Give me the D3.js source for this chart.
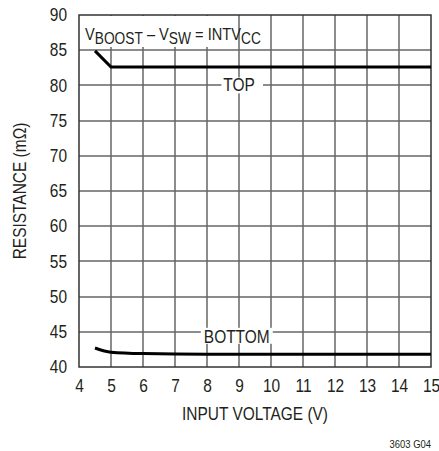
<!DOCTYPE html>
<meta charset="utf-8">
<html>
<head>
<script src="https://d3js.org/d3.v7.min.js"></script>
<style>
  body { margin: 0; background: #fff; }
  text { font-family: 'Liberation Sans', Arial, sans-serif; fill: #231f20; }
</style>
</head>
<body>
<svg width="439" height="451"></svg>
<script>
  // data
  const xTicks = [4, 5, 6, 7, 8, 9, 10, 11, 12, 13, 14, 15];
  const yTicks = [40, 45, 50, 55, 60, 65, 70, 75, 80, 85, 90];
  const topV = [4.5, 5, 6, 8, 10, 12, 15];
  const topR = [84.9, 82.6, 82.6, 82.6, 82.6, 82.6, 82.6];
  const botV = [4.5, 5, 6, 8, 10, 12, 15];
  const botR = [42.7, 42.1, 41.9, 41.8, 41.8, 41.8, 41.8];

  const svg = d3.select("svg");
  const margin = { left: 79, right: 8, top: 15, bottom: 84 };
  const W = 439 - margin.left - margin.right;
  const H = 451 - margin.top - margin.bottom;
  const SX = 0.86; // condensed look

  const x = d3.scaleLinear().domain([4, 15]).range([0, W]);
  const y = d3.scaleLinear().domain([40, 90]).range([H, 0]);

  const g = svg.append("g").attr("transform", `translate(${margin.left},${margin.top})`);

  function label(parent, px, py, size, anchor, str) {
    return parent.append("text")
      .attr("transform", `translate(${px},${py}) scale(${SX},1)`)
      .attr("text-anchor", anchor)
      .style("font-size", size + "px")
      .text(str);
  }

  // grid
  const grid = g.append("g");
  xTicks.slice(1, -1).forEach(v => {
    grid.append("path")
      .attr("d", `M${Math.round(x(v))},0V${H}`)
      .attr("stroke", "#666").attr("stroke-width", 1.5).attr("fill", "none");
  });
  yTicks.slice(1, -1).forEach(v => {
    grid.append("path")
      .attr("d", `M0,${Math.round(y(v))}H${W}`)
      .attr("stroke", "#666").attr("stroke-width", 1.5).attr("fill", "none");
  });

  // white boxes behind labels
  g.append("rect").attr("x", 1).attr("y", 1).attr("width", x(8.95) - 1).attr("height", 31).attr("fill", "#fff");
  g.append("rect").attr("x", x(8.45)).attr("y", y(80) - 8).attr("width", x(9.75) - x(8.45)).attr("height", 16).attr("fill", "#fff");
  g.append("rect").attr("x", x(8.93) - 36).attr("y", y(45) - 4).attr("width", 72).attr("height", 16).attr("fill", "#fff");

  // frame
  g.append("rect").attr("width", W).attr("height", H)
    .attr("fill", "none").attr("stroke", "#333").attr("stroke-width", 1.5);

  // axes tick labels
  const xAxis = d3.axisBottom(x).tickValues(xTicks).tickSize(0).tickPadding(12);
  const yAxis = d3.axisLeft(y).tickValues(yTicks).tickSize(0).tickPadding(12);
  const xa = g.append("g").attr("transform", `translate(0,${H})`).call(xAxis);
  const ya = g.append("g").call(yAxis);
  [xa, ya].forEach(a => {
    a.select(".domain").remove();
    a.selectAll("text").style("font-size", "18px").attr("fill", "#231f20");
  });
  xa.selectAll("text").attr("transform", `scale(${SX},1)`);
  ya.selectAll("text").attr("x", null).attr("transform", `translate(-12,0) scale(${SX},1)`);

  // curves
  g.append("path").datum(topV.map((v, i) => [v, topR[i]]))
    .attr("d", d3.line().x(d => x(d[0])).y(d => y(d[1])))
    .attr("fill", "none").attr("stroke", "#000").attr("stroke-width", 3);
  g.append("path").datum(botV.map((v, i) => [v, botR[i]]))
    .attr("d", d3.line().x(d => x(d[0])).y(d => y(d[1])).curve(d3.curveMonotoneX))
    .attr("fill", "none").attr("stroke", "#000").attr("stroke-width", 3);

  // labels
  label(g, x(9), y(80) + 6, 18, "middle", "TOP");
  label(g, x(8.93), y(45) + 11, 18, "middle", "BOTTOM");

  const t = label(g, 6, 25, 17, "start", "V");
  t.append("tspan").attr("dy", 4).style("font-size", "16px").text("BOOST");
  t.append("tspan").attr("dy", -4).text(" – V");
  t.append("tspan").attr("dy", 4).style("font-size", "16px").text("SW");
  t.append("tspan").attr("dy", -4).text(" = INTV");
  t.append("tspan").attr("dy", 4).style("font-size", "16px").text("CC");

  // axis titles
  label(svg, margin.left + W / 2, 420, 18, "middle", "INPUT VOLTAGE (V)");
  svg.append("text").attr("transform", `translate(26,${margin.top + H / 2}) rotate(-90) scale(${SX},1)`)
    .attr("text-anchor", "middle").style("font-size", "18px").text("RESISTANCE (mΩ)");
  label(svg, 431, 448, 11, "end", "3603 G04");
</script>
</body>
</html>
